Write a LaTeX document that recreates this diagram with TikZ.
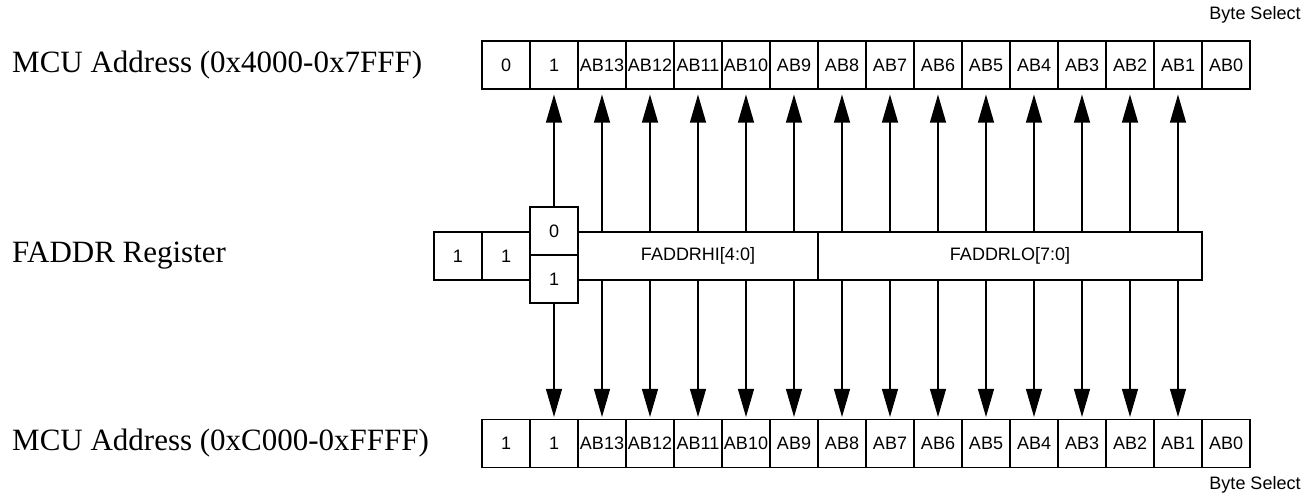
\documentclass[tikz,border=0pt]{standalone}
\usepackage{fontspec}
\setmainfont{Liberation Serif}
\newfontfamily\arialfont{Liberation Sans}
\usetikzlibrary{arrows.meta}
\begin{document}
\begin{tikzpicture}[x=1pt,y=-1pt,
  cellbox/.style={draw,line width=1.1pt,minimum width=48pt,minimum height=48pt,inner sep=0pt,font=\arialfont\fontsize{18}{20}\selectfont},
  widebox/.style={cellbox},
  rowlabel/.style={anchor=west,inner sep=0pt,font=\fontsize{31}{34}\selectfont},
  smalllabel/.style={inner sep=0pt,font=\arialfont\fontsize{18}{20}\selectfont},
  arr/.style={line width=1.1pt,-{Triangle[length=28pt,width=16pt]}},
  uparr/.style={arr,shorten >=5pt},
  downarr/.style={arr,shorten >=2pt}]
\useasboundingbox (0,0) rectangle (1304,494);
% labels
\node[rowlabel] (lbltop) at (12,65) {MCU Address (0x4000-0x7FFF)};
\node[rowlabel] (lblreg) at (12,256) {FADDR Register};
\node[rowlabel] (lblbot) at (12,443.5) {MCU Address (0xC000-0xFFFF)};
\node[smalllabel] (bstop) at (1255,15) {Byte Select};
\node[smalllabel] (bsbot) at (1255,485) {Byte Select};
% address rows
\foreach \i/\t/\b in {0/0/1,1/1/1,2/AB13/AB13,3/AB12/AB12,4/AB11/AB11,5/AB10/AB10,6/AB9/AB9,7/AB8/AB8,8/AB7/AB7,9/AB6/AB6,10/AB5/AB5,11/AB4/AB4,12/AB3/AB3,13/AB2/AB2,14/AB1/AB1,15/AB0/AB0}{
  \node[cellbox] (t\i) at (506+48*\i,65) {\t};
  \node[cellbox] (b\i) at (506+48*\i,443.5) {\b};
}
% register
\node[cellbox] (r0) at (458,256) {1};
\node[cellbox] (r1) at (506,256) {1};
\node[cellbox] (m0) at (554,231) {0};
\node[cellbox] (m1) at (554,279) {1};
\node[widebox,minimum width=240pt] (hi) at (698,256) {FADDRHI[4:0]};
\node[widebox,minimum width=384pt] (lo) at (1010,256) {FADDRLO[7:0]};
% arrows
\draw[uparr] (m0.north) -- (t1.south);
\draw[downarr] (m1.south) -- (b1.north);
\foreach \i in {2,...,6}{
  \draw[uparr] (hi.north -| t\i.south) -- (t\i.south);
  \draw[downarr] (hi.south -| b\i.north) -- (b\i.north);
}
\foreach \i in {7,...,14}{
  \draw[uparr] (lo.north -| t\i.south) -- (t\i.south);
  \draw[downarr] (lo.south -| b\i.north) -- (b\i.north);
}
\end{tikzpicture}
\end{document}
